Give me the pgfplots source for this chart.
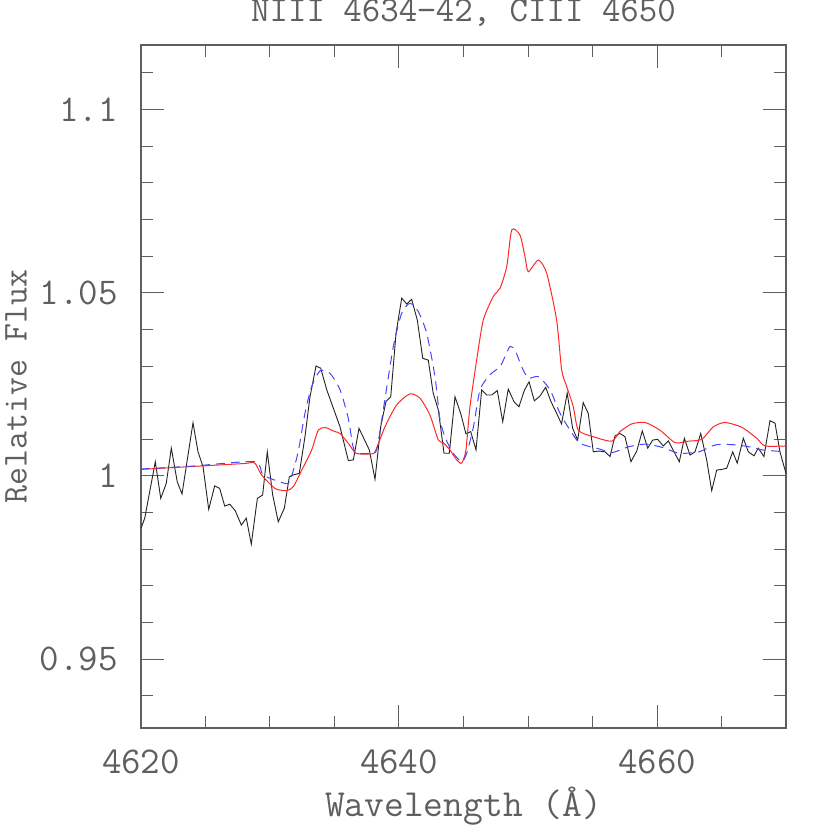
\documentclass[border=0pt]{standalone}
\usepackage{pgfplots}
\pgfplotsset{compat=1.18}
\definecolor{axgray}{RGB}{95,95,95}
\definecolor{dred}{RGB}{255,40,40}
\definecolor{dblue}{RGB}{70,70,255}
\definecolor{dblack}{RGB}{35,35,35}
\newcommand{\tfont}{\fontsize{38}{40}\selectfont\ttfamily}
\newcommand{\lfont}{\fontsize{36}{38}\selectfont\ttfamily}
\newcommand{\ylfont}{\fontsize{35}{37}\selectfont\ttfamily}
\newcommand{\xlfont}{\fontsize{38.5}{40}\selectfont\ttfamily}
\begin{document}
\begin{tikzpicture}
\begin{axis}[
  scale only axis, width=645bp, height=683bp,
  xmin=4620, xmax=4670, ymin=0.93127, ymax=1.11755,
  tick align=inside, major tick length=23bp, minor tick length=12bp,
  xtick={4620,4640,4660}, xticklabels={4620,4640,4660},
  minor xtick={4625,4630,4635,4645,4650,4655,4665},
  ytick={0.95,1,1.05,1.1}, yticklabels={0.95,1,1.05,1.1},
  minor ytick={0.94,0.96,0.97,0.98,0.99,1.01,1.02,1.03,1.04,1.06,1.07,1.08,1.09,1.11},
  axis line style={axgray, line width=1.2bp},
  every tick/.style={axgray, line width=1bp},
  tick label style={text=axgray, font=\tfont, inner sep=0pt},
  xticklabel style={anchor=north, yshift=-22bp},
  yticklabel style={anchor=east, xshift=-23bp},
  title={NIII 4634−42, CIII 4650},
  every axis title/.style={at={(axis description cs:0.5,1.0351)}, anchor=base, font=\lfont, text=axgray, inner sep=0pt},
  xlabel={Wavelength (Å)},
  every axis x label/.style={at={(axis description cs:0.5,-0.1303)}, anchor=base, font=\xlfont, text=axgray, inner sep=0pt},
  ylabel={Relative Flux},
  every axis y label/.style={at={(axis description cs:-0.1775,0.5)}, rotate=90, anchor=base, font=\ylfont, text=axgray, inner sep=0pt},
  clip=true,
]
\addplot[dblack, line width=0.9bp] coordinates {
(4620.00,0.9857) (4620.29,0.9885) (4621.11,1.0039) (4621.53,0.9939) (4621.96,0.9980)
(4622.35,1.0076) (4622.81,0.9984) (4623.18,0.9951) (4624.03,1.0145) (4624.42,1.0066)
(4624.81,1.0025) (4625.25,0.9909) (4625.71,0.9973) (4626.10,0.9966) (4626.49,0.9918)
(4626.88,0.9923) (4627.31,0.9905) (4627.78,0.9866) (4628.16,0.9885) (4628.55,0.9814)
(4629.02,0.9939) (4629.43,0.9948) (4629.79,1.0066) (4630.21,0.9948) (4630.64,0.9875)
(4631.11,0.9912) (4631.50,0.9998) (4631.81,1.0003) (4632.27,1.0007) (4632.71,1.0107)
(4633.10,1.0216) (4633.57,1.0300) (4633.93,1.0294) (4634.40,1.0235) (4634.91,1.0185)
(4635.43,1.0134) (4636.07,1.0042) (4636.46,1.0044) (4636.90,1.0130) (4637.70,1.0071)
(4638.14,0.9991) (4638.58,1.0134) (4638.99,1.0203) (4639.36,1.0216) (4639.77,1.0389)
(4640.21,1.0485) (4640.60,1.0469) (4640.98,1.0482) (4641.42,1.0425) (4641.84,1.0321)
(4642.27,1.0316) (4642.65,1.0226) (4643.05,1.0180) (4643.49,1.0062) (4643.90,1.0062)
(4644.34,1.0216) (4644.78,1.0171) (4645.19,1.0115) (4645.56,1.0121) (4645.97,1.0071)
(4646.41,1.0235) (4646.80,1.0221) (4647.19,1.0221) (4647.62,1.0233) (4648.04,1.0148)
(4648.47,1.0237) (4648.91,1.0203) (4649.30,1.0189) (4649.71,1.0233) (4650.08,1.0257)
(4650.49,1.0205) (4650.93,1.0218) (4651.37,1.0242) (4651.78,1.0203) (4652.22,1.0171)
(4652.60,1.0142) (4653.04,1.0226) (4653.46,1.0130) (4653.85,1.0098) (4654.28,1.0200)
(4654.67,1.0171) (4655.06,1.0066) (4655.50,1.0068) (4655.97,1.0066) (4656.36,1.0053)
(4656.74,1.0109) (4657.13,1.0116) (4657.52,1.0107) (4657.98,1.0039) (4658.43,1.0068)
(4658.86,1.0123) (4659.28,1.0076) (4659.67,1.0098) (4660.05,1.0100) (4660.49,1.0082)
(4660.88,1.0096) (4661.32,1.0066) (4661.73,1.0039) (4662.12,1.0103) (4662.56,1.0057)
(4662.95,1.0066) (4663.39,1.0116) (4663.85,1.0044) (4664.24,0.9960) (4664.63,1.0016)
(4665.02,1.0018) (4665.40,1.0021) (4665.87,1.0066) (4666.22,1.0035) (4666.69,1.0103)
(4667.08,1.0066) (4667.52,1.0055) (4667.85,1.0076) (4668.29,1.0053) (4668.76,1.0151)
(4669.15,1.0144) (4669.53,1.0066) (4670.00,1.0007)
};
\addplot[dred, line width=1bp, smooth, tension=0.4] coordinates {
(4620.0,1.0018) (4624.0,1.0026) (4628.0,1.0034) (4628.8,1.0036) (4629.35,1.0003)
(4630.39,0.9966) (4631.29,0.9960) (4631.81,0.9971) (4632.46,1.0016) (4633.23,1.0071)
(4633.74,1.0125) (4634.30,1.0132) (4635.04,1.0121) (4635.43,1.0116) (4636.10,1.0088)
(4636.67,1.0062) (4637.75,1.0060) (4638.14,1.0066) (4638.91,1.0134) (4639.82,1.0194)
(4640.85,1.0224) (4641.63,1.0212) (4642.40,1.0166) (4643.05,1.0098) (4643.43,1.0091)
(4643.95,1.0071) (4644.47,1.0044) (4644.86,1.0035) (4645.19,1.0071) (4645.50,1.0189)
(4646.02,1.0316) (4646.53,1.0425) (4647.30,1.0489) (4647.83,1.0512) (4648.35,1.0571)
(4648.74,1.0671) (4649.38,1.0657) (4649.77,1.0598) (4650.02,1.0557) (4650.80,1.0589)
(4651.45,1.0553) (4652.22,1.0425) (4652.61,1.0289) (4653.00,1.0244) (4653.51,1.0189)
(4653.90,1.0125) (4655.06,1.0107) (4656.49,1.0095) (4657.13,1.0121) (4658.04,1.0142)
(4659.07,1.0146) (4660.23,1.0125) (4661.40,1.0091) (4662.43,1.0095) (4663.47,1.0100)
(4664.36,1.0134) (4665.27,1.0146) (4666.57,1.0133) (4667.73,1.0103) (4668.37,1.0082)
(4670.0,1.0082)
};
\addplot[dblue, line width=1bp, dash pattern=on 9bp off 6bp, smooth, tension=0.4] coordinates {
(4620.0,1.0019) (4624.0,1.0027) (4628.8,1.0039) (4629.45,1.0003) (4630.87,0.9983)
(4631.50,0.9983) (4632.16,1.0062) (4632.71,1.0171) (4633.23,1.0244) (4633.88,1.0287)
(4634.65,1.0280) (4635.43,1.0235) (4636.05,1.0160) (4636.44,1.0080) (4636.72,1.0062)
(4637.75,1.0062) (4638.27,1.0071) (4638.78,1.0180) (4639.56,1.0353) (4640.21,1.0444)
(4640.85,1.0471) (4641.50,1.0448) (4642.15,1.0389) (4642.79,1.0271) (4643.18,1.0153)
(4643.64,1.0100) (4644.21,1.0062) (4644.86,1.0039) (4645.25,1.0062) (4645.77,1.0134)
(4646.28,1.0235) (4647.05,1.0276) (4647.83,1.0298) (4648.22,1.0326) (4648.60,1.0353)
(4648.99,1.0344) (4649.51,1.0298) (4650.02,1.0267) (4650.80,1.0271) (4651.71,1.0235)
(4652.48,1.0171) (4653.26,1.0125) (4654.03,1.0089) (4655.50,1.0074) (4656.53,1.0064)
(4657.83,1.0080) (4659.12,1.0087) (4660.41,1.0078) (4661.71,1.0062) (4663.26,1.0066)
(4664.55,1.0085) (4666.10,1.0085) (4667.39,1.0078) (4668.17,1.0071) (4670.0,1.0066)
};
\end{axis}
\pgfresetboundingbox
\path[use as bounding box] ([shift={(-141bp,-102bp)}]current axis.south west) rectangle ([shift={(44bp,45bp)}]current axis.north east);
\end{tikzpicture}
\end{document}
